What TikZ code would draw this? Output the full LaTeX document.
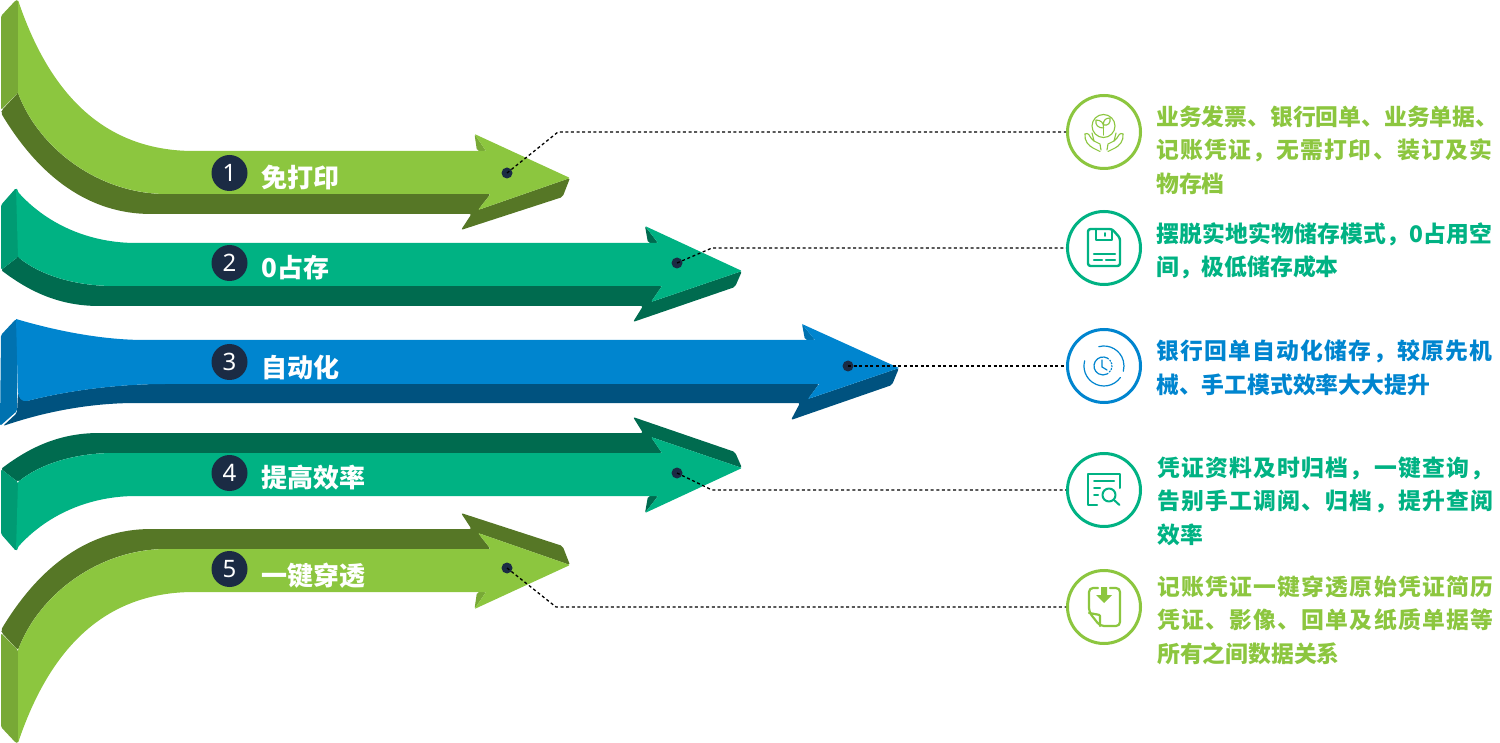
\documentclass[tikz,border=0pt]{standalone}
\usepackage{fontspec}
\setmainfont{Noto Sans}
\newfontfamily\cjk{Noto Sans CJK SC}
\definecolor{lg}{HTML}{8CC63F}\definecolor{lgd}{HTML}{567726}\definecolor{lgs}{HTML}{78A936}
\definecolor{gr}{HTML}{00B283}\definecolor{grd}{HTML}{006B4F}\definecolor{grs}{HTML}{009B73}
\definecolor{bl}{HTML}{0085CF}\definecolor{bld}{HTML}{00527F}\definecolor{bls}{HTML}{0072B0}
\definecolor{navy}{HTML}{1B2B44}
% a line set to the full column width, as in the justified text of the picture
\def\jlgo#1#2{#1\ifx#2\jlend\else\hskip 0pt plus 1fil\relax\expandafter\jlgo\expandafter#2\fi}
\newcommand{\jl}[1]{\leavevmode\hbox to 336pt{\jlgo#1\jlend}}
\newcommand{\arrowA}{%
 \fill[lgd,rounded corners=2pt] (18,93) -- (2,110) -- (1,113) .. controls (40,178) and (90,214) .. (153,214) -- (471.5,214) -- (461,230) -- (562.6,197) -- (570,178) -- (478,210) -- (490.6,194) -- (168,194) .. controls (100,194) and (40,150) .. (18,93) -- cycle;
 \fill[lgs,rounded corners=2pt] (474.5,134) -- (477,151) -- (486,151) -- cycle;
 \fill[lgs,rounded corners=1.5pt] (16,0) -- (1,16) -- (1,110) -- (18,93) -- (18,0) -- cycle;
 \fill[lg,rounded corners=1pt] (18,0) .. controls (50,95) and (105,151) .. (195,151) -- (486,151) -- (474.5,134) -- (570,178) -- (478,210) -- (490.6,194) -- (168,194) .. controls (100,194) and (40,150) .. (18,93) -- cycle;
}
\newcommand{\arrowB}{%
 \fill[grd,rounded corners=2pt] (18,257) -- (1,270) .. controls (30,292) and (60,306) .. (101,306) -- (643,306) -- (633,322) -- (735,287) -- (742,271) -- (651,302) -- (662,286) -- (115,286) .. controls (75,286) and (40,275) .. (18,257) -- cycle;
 \fill[grd,rounded corners=2pt] (645,226) -- (648,243) -- (658,243) -- cycle;
 \fill[grs,rounded corners=1.5pt] (16,188) -- (1,205) -- (1,270) -- (18,257) -- (18,190) -- cycle;
 \fill[gr,rounded corners=1pt] (16,188) -- (18,192) .. controls (45,222) and (85,242) .. (134,243) -- (658,243) -- (645,226) -- (742,271) -- (651,302) -- (662,286) -- (115,286) .. controls (75,286) and (40,275) .. (18,257) -- cycle;
}
\tikzset{
 x=1pt,y=-1pt,
 conn/.style={draw=black,line width=1.3pt,dash pattern=on 3pt off 2.6pt},
 dot/.style={circle,fill=navy,inner sep=0pt,minimum size=11pt},
 num/.style={circle,fill=navy,text=white,inner sep=0pt,minimum size=36pt,font=\fontsize{24}{24}\selectfont},
 lab/.style={anchor=west,text=white,inner sep=0pt,font=\cjk\bfseries\fontsize{26}{26}\selectfont},
 ring/.style={circle,draw=#1,line width=3pt,fill=white,inner sep=0pt,minimum size=73pt},
 desc/.style={anchor=west,align=left,inner sep=0pt,text=#1,font=\cjk\bfseries\fontsize{22.8}{33.6}\selectfont},
}
\begin{document}
\begin{tikzpicture}
\useasboundingbox (0,0) rectangle (1500,743);
% arrows
\arrowA
\arrowB
\fill[bld,rounded corners=2pt] (18,393) -- (17,413) -- (3,426) .. controls (50,410) and (95,403) .. (138,403) -- (800,403) -- (791,420) -- (892,385) -- (899,368) -- (808,399) -- (819,384) -- (165,384) .. controls (120,384) and (70,390) .. (27,401) -- cycle;
\fill[bls,rounded corners=2pt] (802,324) -- (805,340) -- (815,340) -- cycle;
\fill[bls,rounded corners=1.5pt] (16,319) -- (1,335) -- (0,426) -- (17,411) -- (18,320) -- cycle;
\fill[bl] (16,319) .. controls (60,332) and (105,340) .. (145,340) -- (815,340) -- (802,324) -- (899,368) -- (808,399) -- (819,384) -- (165,384) .. controls (120,384) and (70,390) .. (27,401) .. controls (22,402) and (18,398) .. (18,392) -- cycle;
\begin{scope}[yshift=-739pt,yscale=-1]
\arrowB
\end{scope}
\begin{scope}[yshift=-743pt,yscale=-1]
\arrowA
\end{scope}
% number badges and labels
\node[num] (n1) at (229.5,173) {1};
\node[num] (n2) at (229.5,263) {2};
\node[num] (n3) at (229.5,362) {3};
\node[num] (n4) at (229.5,473) {4};
\node[num] (n5) at (229.5,569) {5};
\node[lab] (l1) at (261,178) {免打印};
\node[lab] (l2) at (261,268) {0占存};
\node[lab] (l3) at (261,368) {自动化};
\node[lab] (l4) at (261,478) {提高效率};
\node[lab] (l5) at (261,576) {一键穿透};
% rings
\node[ring=lg] (c1) at (1104,132) {};
\node[ring=gr] (c2) at (1104,248) {};
\node[ring=bl] (c3) at (1104,366) {};
\node[ring=gr] (c4) at (1104,490) {};
\node[ring=lg] (c5) at (1104,607) {};
% dots and connectors
\node[dot] (d1) at (507,173) {};
\node[dot] (d2) at (677,263) {};
\node[dot] (d3) at (848,366) {};
\node[dot] (d4) at (677,473) {};
\node[dot] (d5) at (507,568) {};
\coordinate (k1) at (558,132);
\coordinate (k2) at (712,248);
\coordinate (k4) at (712,490);
\coordinate (k5) at (556,607);
\draw[conn] (d1.center) -- (k1) -- (c1.west);
\draw[conn] (d2.center) -- (k2) -- (c2.west);
\draw[conn] (d3.center) -- (c3.west);
\draw[conn] (d4.center) -- (k4) -- (c4.west);
\draw[conn] (d5.center) -- (k5) -- (c5.west);
% descriptions
\node[desc=lg] (t1) at (1156,150) {业务发票、银行回单、业务单据、\\\jl{记账凭证，无需打印、装订及实}\\物存档};
\node[desc=gr] (t2) at (1156,251) {\jl{摆脱实地实物储存模式，0占用空}\\间，极低储存成本};
\node[desc=bl] (t3) at (1156,368) {\jl{银行回单自动化储存，较原先机}\\械、手工模式效率大大提升};
\node[desc=gr] (t4) at (1157,501) {\jl{凭证资料及时归档，一键查询，}\\\jl{告别手工调阅、归档，提升查阅}\\效率};
\node[desc=lg] (t5) at (1157,620) {\jl{记账凭证一键穿透原始凭证简历}\\\jl{凭证、影像、回单及纸质单据等}\\所有之间数据关系};
% icon 1: sprout in hands
\begin{scope}[draw=lg,line width=1.1pt,line cap=round,line join=round]
\draw (1103.5,126) circle[radius=11.5];
\draw (1103.5,135) -- (1103.5,126);
\draw (1103.5,128) .. controls (1098,128) and (1095,125) .. (1096,120) .. controls (1101,120) and (1104,123) .. (1103.5,128);
\draw (1103.5,125) .. controls (1103,120) and (1106,118) .. (1110,118) .. controls (1111,123) and (1108,126) .. (1103.5,125);
\foreach \s in {1,-1}{
 \begin{scope}[shift={(1104,0)},xscale=\s]
 \draw (-19,134) .. controls (-20,141) and (-15,146) .. (-11,148) -- (-4,151.5);
 \draw (-19,134) .. controls (-16,132) and (-14,136) .. (-13,138) -- (-10,141);
 \draw (-12,133) -- (-10,141) -- (-4,144) -- (-3,150);
 \end{scope}
}
\end{scope}
% icon 2: floppy disk
\begin{scope}[draw=gr,line width=2.4pt,line cap=round,line join=round]
\draw[rounded corners=2.5pt] (1088,229) -- (1112,229) -- (1120,238) -- (1120,266) -- (1088,266) -- cycle;
\draw (1096,229) -- (1096,240) -- (1112,240) -- (1112,231);
\draw[line width=1.8pt] (1105,233) -- (1105,236);
\draw (1094,254) -- (1115,254);
\draw (1094,260) -- (1102,260) (1106,260) -- (1115,260);
\end{scope}
% icon 3: clock (angles run clockwise, the y axis points down)
\begin{scope}[draw=bl,line width=1.2pt,line cap=round]
\draw (1104,366) ++(-105:20) arc[start angle=-105,end angle=15,radius=20];
\draw (1104,366) ++(35:20) arc[start angle=35,end angle=195,radius=20];
\draw (1103,366) ++(-60:9) arc[start angle=-60,end angle=-300,radius=9];
\draw[dash pattern=on 1.2pt off 1.8pt] (1103,366) ++(-60:9) arc[start angle=-60,end angle=60,radius=9];
\draw (1102,360) -- (1102,367) -- (1107,370);
\end{scope}
% icon 4: document and magnifier
\begin{scope}[draw=gr,line width=2pt,line cap=round,line join=round]
\draw (1097,505) -- (1088,505) -- (1088,473.5) -- (1120,473.5) -- (1120,488);
\draw (1094,481) -- (1114,481);
\draw (1094,488) -- (1100,488);
\draw (1094,495) -- (1098,495);
\draw (1109,495) circle[radius=6.5];
\draw (1114,500) -- (1119.5,505);
\end{scope}
% icon 5: document with arrow
\begin{scope}[draw=lg,line width=2.2pt,line cap=round,line join=round]
\draw[rounded corners=4pt] (1098,588) -- (1089,588) -- (1089,612) -- (1100,626) -- (1120,626) -- (1120,588) -- (1110,588);
\draw[rounded corners=1pt] (1089,613) -- (1100,615) -- (1100,626);
\fill[lg] (1101,587) -- (1107,587) -- (1107,595) -- (1112,595) -- (1104,603) -- (1096,595) -- (1101,595) -- cycle;
\end{scope}
\end{tikzpicture}
\end{document}
